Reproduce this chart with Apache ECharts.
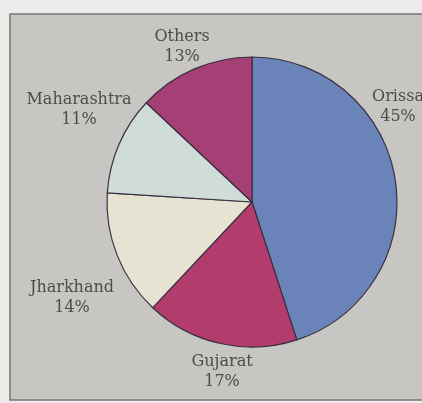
<!DOCTYPE html>
<html><head><meta charset="utf-8">
<script src="https://cdn.jsdelivr.net/npm/echarts@6/dist/echarts.min.js"></script>
<style>html,body{margin:0;padding:0;background:#ecebe9;}#c{width:422px;height:403px;}</style>
</head><body><div id="c"></div>
<script>
const categories = ['Orissa', 'Gujarat', 'Jharkhand', 'Maharashtra', 'Others'];
const values = [45, 17, 14, 11, 13];
const colors = ['#6a84ba', '#b23c6c', '#e7e3d3', '#cfdcd8', '#a53f76'];
const labelPos = [[398, 107], [222, 372], [72, 298], [79, 110], [182, 47]];

const chart = echarts.init(document.getElementById('c'));
chart.setOption({
  backgroundColor: '#ecebe9',
  graphic: [{
    type: 'rect', z: -10,
    shape: {x: 10, y: 14, width: 420, height: 386},
    style: {fill: '#c8c6c2', stroke: '#7a7875', lineWidth: 1.5}
  }],
  series: [{
    type: 'pie',
    center: [252, 202],
    radius: 145,
    startAngle: 90,
    clockwise: true,
    animation: false,
    avoidLabelOverlap: false,
    data: categories.map((c, i) => ({name: c, value: values[i], itemStyle: {color: colors[i]}})),
    itemStyle: {borderColor: '#3a3040', borderWidth: 1.2},
    label: {
      show: true,
      position: 'outside',
      formatter: p => p.name + '\n' + p.value + '%',
      fontFamily: 'DejaVu Serif',
      fontSize: 16,
      lineHeight: 20,
      color: '#4e4c4a',
      align: 'center',
      overflow: 'none',
      width: 200
    },
    labelLine: {show: false},
    labelLayout: p => ({x: labelPos[p.dataIndex][0], y: labelPos[p.dataIndex][1], align: 'center', verticalAlign: 'middle', hideOverlap: false, moveOverlap: null})
  }]
});
</script></body></html>
